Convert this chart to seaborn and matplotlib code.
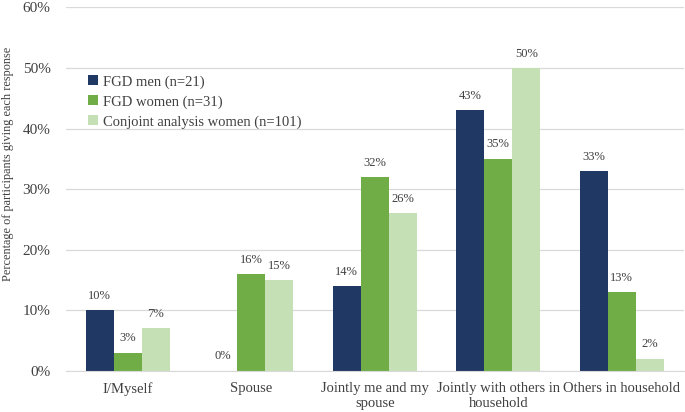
import pandas as pd
import seaborn as sns
import matplotlib.pyplot as plt

# Dados
categorias = ["I/Myself", "Spouse", "Jointly me and my\nspouse",
              "Jointly with others in\nhousehold", "Others in household"]
series = ["FGD men (n=21)", "FGD women (n=31)", "Conjoint analysis women (n=101)"]
fgd_men = [10, 0, 14, 43, 33]
fgd_women = [3, 16, 32, 35, 13]
conjoint_women = [7, 15, 26, 50, 2]
cores = ["#203864", "#70AD47", "#C5E0B4"]

df = pd.DataFrame({
    "categoria": categorias * 3,
    "serie": [series[0]] * 5 + [series[1]] * 5 + [series[2]] * 5,
    "valor": fgd_men + fgd_women + conjoint_women,
})

sns.set_style("white")
plt.rcParams["font.family"] = ["Liberation Serif", "DejaVu Serif"]

fig = plt.figure(figsize=(6.85, 4.12), dpi=100)
ax = fig.add_axes([0.096, 0.1, 0.902, 0.882])

sns.barplot(data=df, x="categoria", y="valor", hue="serie", palette=cores,
            width=0.68, saturation=1, ax=ax, gap=0, linewidth=0)

for c in ax.containers:
    ax.bar_label(c, labels=[f"{v:.0f}%" for v in c.datavalues],
                 padding=6, fontsize=9, color="#404040")

ax.set_ylim(0, 60)
ax.set_yticks(range(0, 61, 10))
ax.set_yticklabels([f"{t}%" for t in range(0, 61, 10)], fontsize=11, color="#404040")
ax.set_xlim(-0.5, 4.5)
ax.tick_params(axis="x", labelsize=10.5, colors="#404040", length=0, pad=8)
ax.tick_params(axis="y", length=0, pad=11)
ax.yaxis.grid(True, color="#D9D9D9", linewidth=0.9)
ax.set_axisbelow(True)
for s in ["top", "right", "left"]:
    ax.spines[s].set_visible(False)
ax.spines["bottom"].set_color("#D9D9D9")
ax.set_xlabel("")
ax.set_ylabel("Percentage of participants giving each response",
              fontsize=8.8, color="#404040")
ax.yaxis.set_label_coords(-0.083, 0.57)

ax.legend(loc="upper left", bbox_to_anchor=(0.015, 0.85), frameon=False,
          fontsize=10.5, handlelength=0.7, handleheight=0.7, handletextpad=0.3,
          labelspacing=0.45, labelcolor="#404040")

plt.savefig("out.png", dpi=100)
